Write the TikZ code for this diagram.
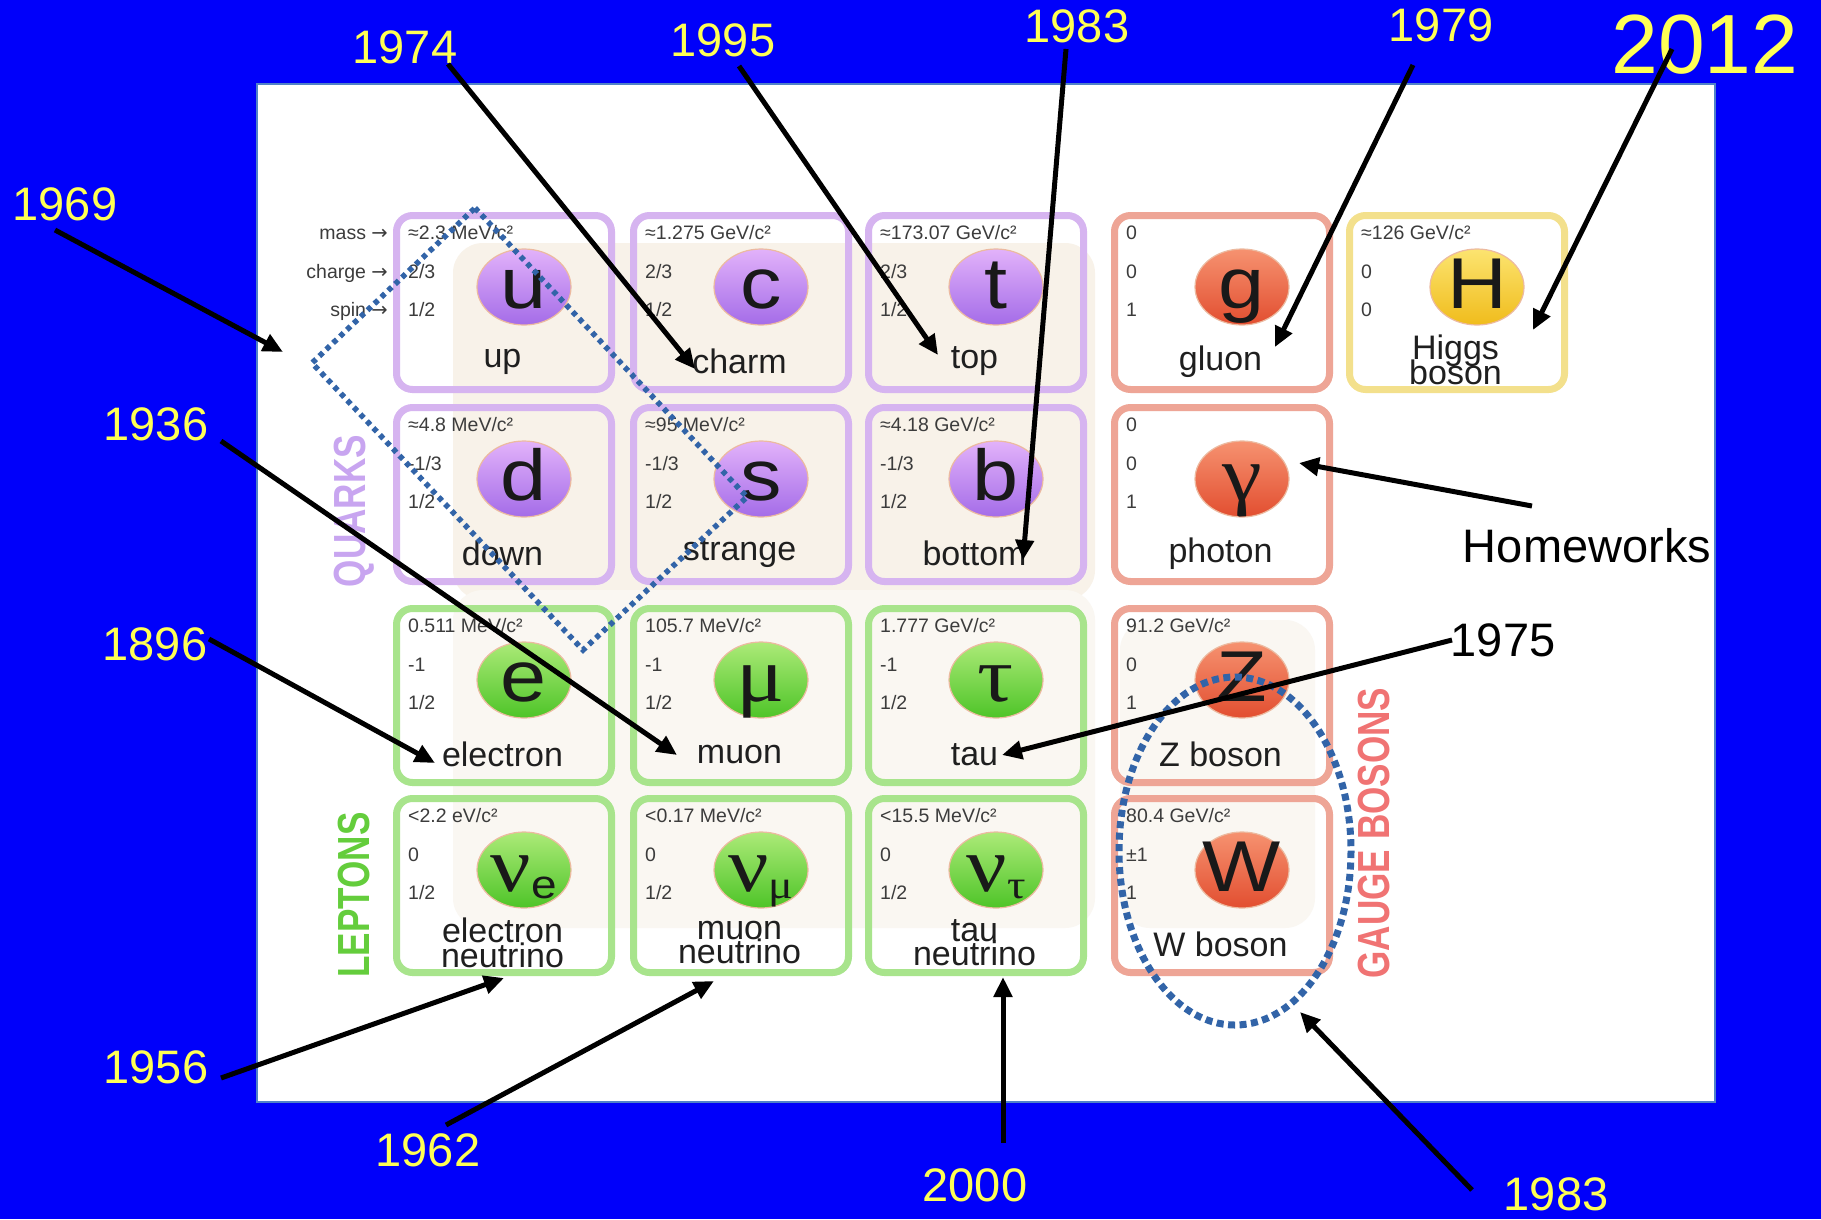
\documentclass[tikz,border=0pt]{standalone}
\usepackage{fontspec}
\setmainfont{Liberation Sans}
\newfontfamily\serifsym[FakeStretch=1.15]{Liberation Serif}
\newfontfamily\sanssym[FakeStretch=1.15]{Liberation Sans}
\newfontfamily\catfont[FakeStretch=0.78]{Liberation Sans}
\newfontfamily\arrowfont{DejaVu Sans}
\usetikzlibrary{shapes.geometric,arrows.meta}
\setlength{\lineskiplimit}{-100pt}

\definecolor{bgblue}{RGB}{0,0,250}
\definecolor{yel}{RGB}{255,255,85}
\definecolor{rectedge}{RGB}{80,130,200}
\definecolor{beige}{RGB}{248,242,233}
\definecolor{beigelight}{RGB}{250,247,242}
\definecolor{qborder}{RGB}{214,180,240}
\definecolor{lborder}{RGB}{168,228,140}
\definecolor{gborder}{RGB}{238,165,150}
\definecolor{hborder}{RGB}{243,224,140}
\definecolor{qtop}{RGB}{226,178,250}
\definecolor{qbot}{RGB}{164,108,232}
\definecolor{ltop}{RGB}{172,234,120}
\definecolor{lbot}{RGB}{78,196,40}
\definecolor{gtop}{RGB}{246,146,112}
\definecolor{gbot}{RGB}{226,78,48}
\definecolor{htop}{RGB}{252,228,112}
\definecolor{hbot}{RGB}{240,188,28}
\definecolor{balledge}{RGB}{236,186,160}
\definecolor{dotblue}{RGB}{50,100,168}
\definecolor{qlab}{RGB}{200,165,240}
\definecolor{llab}{RGB}{100,205,60}
\definecolor{glab}{RGB}{240,115,115}
\definecolor{infogrey}{RGB}{60,60,60}

\newcommand\gk[1]{{\serifsym\fontsize{78}{78}\selectfont #1}}
\newcommand\subs[1]{\raisebox{-7pt}{\fontsize{40}{40}\selectfont #1}}
\newcommand\lowerlast{\rule[-4pt]{0pt}{0pt}}

\newcommand\pcard[9]{%
  \node[#4card] (#1) at (#2+111,#3+90.5) {};
  \node[infotext] (#1m) at ([shift={(11.5,17.5)}]#1.north west) {#5};
  \node[infotext] (#1q) at ([shift={(11.5,56.5)}]#1.north west) {#6};
  \node[infotext] (#1p) at ([shift={(11.5,94.5)}]#1.north west) {#7};
  \node[#4ball] (#1c) at ([shift={(127.5,71.5)}]#1.north west) {};
  \node[symtext] (#1s) at ([shift={(0,21)}]#1c.center) {#8};
  \node[pname] (#1n) at ([shift={(106,146)}]#1.north west) {#9};
}

\begin{document}
\begin{tikzpicture}[x=1pt,y=-1pt,
  cardbox/.style={draw, line width=7pt, rounded corners=16pt, minimum width=215pt,
    minimum height=174pt, inner sep=0pt, outer sep=0pt},
  qcard/.style={cardbox, draw=qborder},
  lcard/.style={cardbox, draw=lborder},
  gcard/.style={cardbox, draw=gborder},
  hcard/.style={cardbox, draw=hborder},
  ballshape/.style={ellipse, minimum width=94pt, minimum height=76pt, inner sep=0pt,
    draw=balledge, line width=1.2pt, shading angle=40},
  qball/.style={ballshape, top color=qtop, bottom color=qbot},
  lball/.style={ballshape, top color=ltop, bottom color=lbot},
  gball/.style={ballshape, top color=gtop, bottom color=gbot},
  hball/.style={ballshape, top color=htop, bottom color=hbot},
  infotext/.style={font=\fontsize{19.5}{20}\selectfont, text=infogrey, inner sep=0pt, anchor=west},
  symtext/.style={font=\sanssym\fontsize{72}{72}\selectfont, text=black!90, inner sep=0pt, anchor=base},
  pname/.style={font=\fontsize{34}{24.5}\selectfont, text=black!88, inner sep=0pt, align=center},
  yr/.style={font=\fontsize{47}{47}\selectfont, text=yel, inner sep=0pt},
  blk/.style={font=\fontsize{47}{47}\selectfont, text=black, inner sep=0pt},
  cat/.style={rotate=90, font=\catfont\bfseries\fontsize{45}{45}\selectfont, inner sep=0pt},
  arr/.style={-{Triangle[length=20pt,width=18pt]}, line width=5pt, black},
  dotline/.style={draw=dotblue, line width=5.5pt, dash pattern=on 5pt off 4.5pt},
  dotoval/.style={draw=dotblue, line width=7pt, dash pattern=on 7pt off 4.5pt}
]
\useasboundingbox (0,0) rectangle (1821,1219);
\fill[bgblue] (0,0) rectangle (1821,1219);
\draw[fill=white, draw=rectedge, line width=1.5pt] (257,84) rectangle (1715,1102);

% faint background regions
\fill[beige, rounded corners=30pt] (453,243) rectangle (1095,600);
\fill[beigelight, rounded corners=30pt] (453,590) rectangle (1095,928);
\fill[beigelight, rounded corners=30pt] (1120,620) rectangle (1315,928);

% row labels
\node[infotext, anchor=east] (lmass) at (388,234) {mass {\arrowfont →}};
\node[infotext, anchor=east] (lcharge) at (388,273) {charge {\arrowfont →}};
\node[infotext, anchor=east] (lspin) at (388,311) {spin {\arrowfont →}};

% cards: row 1
\pcard{pu}{393}{212}{q}{≈2.3 MeV/c²}{2/3}{1/2}{u}{up}
\pcard{pc}{630}{212}{q}{≈1.275 GeV/c²}{2/3}{1/2}{c}{charm}
\pcard{pt}{865}{212}{q}{≈173.07 GeV/c²}{2/3}{1/2}{t}{top}
\pcard{pg}{1111}{212}{g}{0}{0}{1}{g}{gluon}
\pcard{pH}{1346}{212}{h}{≈126 GeV/c²}{0}{0}{H}{Higgs\\boson\lowerlast}
% row 2
\pcard{pd}{393}{404}{q}{≈4.8 MeV/c²}{-1/3}{1/2}{d}{down}
\pcard{ps}{630}{404}{q}{≈95 MeV/c²}{-1/3}{1/2}{s}{strange}
\pcard{pb}{865}{404}{q}{≈4.18 GeV/c²}{-1/3}{1/2}{b}{bottom}
\pcard{pgam}{1111}{404}{g}{0}{0}{1}{\gk{γ}}{photon}
% row 3
\pcard{pe}{393}{605}{l}{0.511 MeV/c²}{-1}{1/2}{e}{electron}
\pcard{pmu}{630}{605}{l}{105.7 MeV/c²}{-1}{1/2}{\gk{μ}}{muon}
\pcard{ptau}{865}{605}{l}{1.777 GeV/c²}{-1}{1/2}{\gk{τ}}{tau}
\pcard{pZ}{1111}{605}{g}{91.2 GeV/c²}{0}{1}{Z}{Z boson}
% row 4
\pcard{pnue}{393}{795}{l}{<2.2 eV/c²}{0}{1/2}{\gk{ν}\subs{e}}{electron\\neutrino\lowerlast}
\pcard{pnumu}{630}{795}{l}{<0.17 MeV/c²}{0}{1/2}{\gk{ν}\subs{\serifsym μ}}{muon\\neutrino\lowerlast}
\pcard{pnutau}{865}{795}{l}{<15.5 MeV/c²}{0}{1/2}{\gk{ν}\subs{\serifsym τ}}{tau\\neutrino\lowerlast}
\pcard{pW}{1111}{795}{g}{80.4 GeV/c²}{±1}{1}{W}{W boson}

% category labels
\node[cat, text=qlab] (lquarks) at (354,511) {QUARKS};
\node[cat, text=llab] (lleptons) at (354,895) {LEPTONS};
\node[cat, text=glab] (lgauge) at (1374,833) {GAUGE BOSONS};

% dotted marks
\draw[dotline] (475,208) -- (747,497) -- (583,650) -- (312,363) -- cycle;
\draw[dotoval] (1235,851) ellipse [x radius=116, y radius=174];

% year labels
\node[yr] (y1969) at (65,204) {1969};
\node[yr] (y1974) at (405,47) {1974};
\node[yr] (y1995) at (723,40) {1995};
\node[yr] (y1983a) at (1077,26) {1983};
\node[yr] (y1979) at (1441,25) {1979};
\node[yr, font=\fontsize{84}{84}\selectfont] (y2012) at (1705,45) {2012};
\node[yr] (y1936) at (156,424) {1936};
\node[blk] (hw) at (1587,546) {Homeworks};
\node[yr] (y1896) at (155,644) {1896};
\node[blk] (y1975) at (1503,640) {1975};
\node[yr] (y1956) at (156,1067) {1956};
\node[yr] (y1962) at (428,1150) {1962};
\node[yr] (y2000) at (975,1185) {2000};
\node[yr] (y1983b) at (1556,1194) {1983};

% arrow end points
\coordinate (s1969) at (55,230);   \coordinate (e1969) at (283,352);
\coordinate (s1974) at (448,64);   \coordinate (e1974) at (695,369);
\coordinate (s1995) at (739,66);   \coordinate (e1995) at (938,355);
\coordinate (s1983a) at (1066,49); \coordinate (e1983a) at (1023,560);
\coordinate (s1979) at (1413,65);  \coordinate (e1979) at (1275,347);
\coordinate (s2012) at (1672,49);  \coordinate (e2012) at (1533,330);
\coordinate (s1936) at (221,441);  \coordinate (e1936) at (677,755);
\coordinate (shw) at (1532,506);   \coordinate (ehw) at (1299,463);
\coordinate (s1896) at (209,639);  \coordinate (e1896) at (435,763);
\coordinate (s1975) at (1452,640); \coordinate (e1975) at (1002,755);
\coordinate (s1956) at (221,1078); \coordinate (e1956) at (504,978);
\coordinate (s1962) at (446,1125); \coordinate (e1962) at (714,981);
\coordinate (s2000) at (1003,1143); \coordinate (e2000) at (1003,977);
\coordinate (s1983b) at (1472,1190); \coordinate (e1983b) at (1300,1012);

\foreach \a in {1969,1974,1995,1983a,1979,2012,1936,hw,1896,1975,1956,1962,2000,1983b}
  \draw[arr] (s\a) -- (e\a);
\end{tikzpicture}
\end{document}
